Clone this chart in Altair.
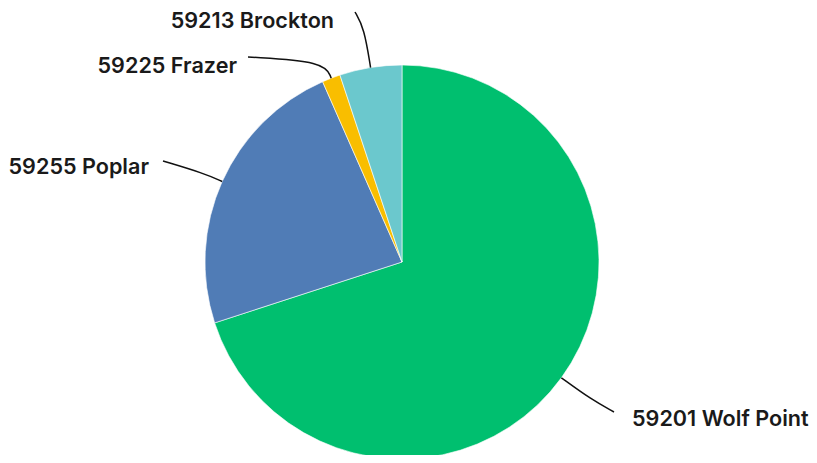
import math
import altair as alt
import pandas as pd

# ---- data ----
labels = ["59201 Wolf Point", "59255 Poplar", "59225 Frazer", "59213 Brockton"]
shares = [70.0, 23.4, 1.5, 5.1]
colors = ["#00BF6F", "#507CB6", "#F9BE00", "#6BC8CD"]

# ---- layout (style, not data) ----
W, H = 801, 447
CX, CY, R = 394, 254, 197
# per-label: elbow extension beyond the rim, connector end point, text side
elbow_ext = [37, 20, 18, 40]
conn_end = [(606, 404), (155, 153), (240, 49), (347, 4)]
text_side = ["left", "right", "right", "right"]
text_gap = [18, 14, 11, 21]
text_dy = [14, 13, 16, 16]
FONT_SIZE = 21.6

df = pd.DataFrame({"label": labels, "share": shares, "idx": list(range(len(labels)))})

# connector geometry derived from the slice angles
total = sum(shares)
rows, trows = [], []
cum = 0.0
for i, (lab, s) in enumerate(zip(labels, shares)):
    mid = (cum + s / 2) / total * 2 * math.pi
    cum += s
    dx, dy = math.sin(mid), -math.cos(mid)
    p0 = (CX + R * dx, CY + R * dy)
    p1 = (CX + (R + elbow_ext[i]) * dx, CY + (R + elbow_ext[i]) * dy)
    p2 = conn_end[i]
    for k, p in enumerate([p0, p1, p2]):
        rows.append({"label": lab, "pt": k, "px": p[0], "py": p[1]})
    sign = 1 if text_side[i] == "left" else -1
    trows.append({"label": lab, "tx": p2[0] + sign * text_gap[i],
                  "ty": p2[1] + text_dy[i], "side": text_side[i]})

lines_df = pd.DataFrame(rows)
text_df = pd.DataFrame(trows)

arc = alt.Chart(df).mark_arc(outerRadius=R, stroke="white", strokeWidth=0.6).encode(
    theta=alt.Theta("share:Q", stack=True),
    color=alt.Color("label:N", scale=alt.Scale(domain=labels, range=colors), legend=None),
    order=alt.Order("idx:Q"),
    x=alt.value(CX),
    y=alt.value(CY),
)

conn = alt.Chart(lines_df).mark_line(interpolate="basis", color="#111111", strokeWidth=1.5).encode(
    x=alt.X("px:Q", scale=None),
    y=alt.Y("py:Q", scale=None),
    detail="label:N",
    order="pt:Q",
)

txt_common = dict(font="Inter", fontSize=FONT_SIZE, fontWeight=600, color="#1a1a1a", baseline="alphabetic")
txt_left = alt.Chart(text_df).transform_filter(alt.datum.side == "left").mark_text(align="left", **txt_common).encode(
    x=alt.X("tx:Q", scale=None), y=alt.Y("ty:Q", scale=None), text="label:N")
txt_right = alt.Chart(text_df).transform_filter(alt.datum.side == "right").mark_text(align="right", **txt_common).encode(
    x=alt.X("tx:Q", scale=None), y=alt.Y("ty:Q", scale=None), text="label:N")

chart = alt.layer(arc, conn, txt_left, txt_right).properties(
    width=W, height=H, padding=0, autosize=alt.AutoSizeParams(type="none")
).configure_view(stroke=None)

chart.save("out.html", embed_options={"renderer": "svg", "actions": False})
